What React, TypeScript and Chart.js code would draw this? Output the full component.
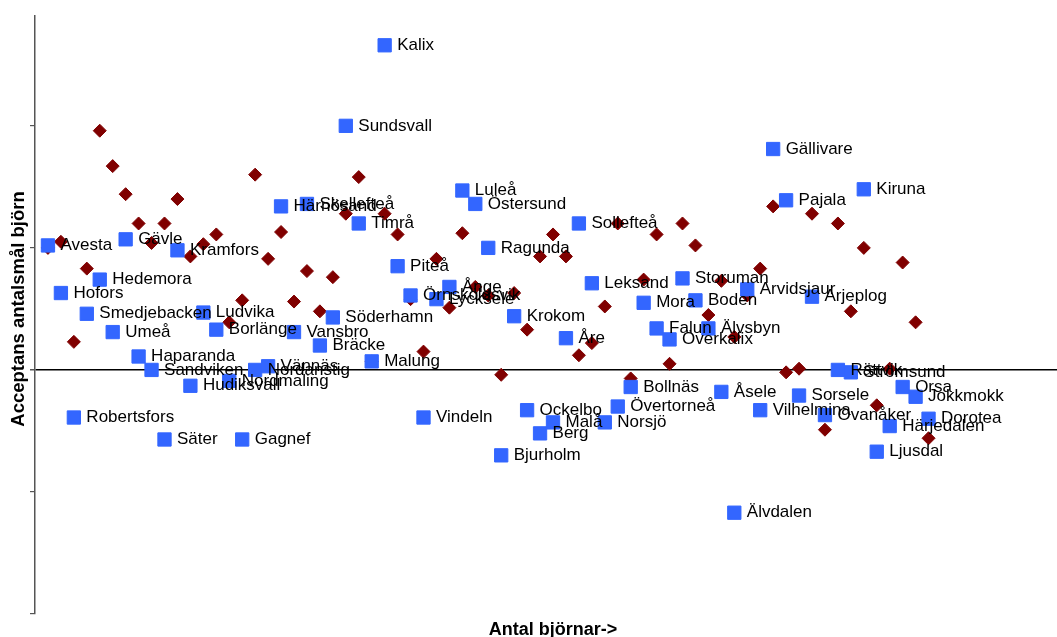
import React, { useEffect, useRef } from "react";
import { Chart, registerables } from "chart.js";

Chart.register(...registerables);

// Municipalities ordered by number of bears (x = rank 1..69)
const municipalities = [
  "Avesta", "Hofors", "Robertsfors", "Smedjebacken", "Hedemora", "Umeå", "Gävle", "Haparanda",
  "Sandviken", "Säter", "Kramfors", "Hudiksvall", "Ludvika", "Borlänge", "Nordmaling", "Gagnef",
  "Nordanstig", "Vännäs", "Härnösand", "Vansbro", "Skellefteå", "Bräcke", "Söderhamn", "Sundsvall",
  "Timrå", "Malung", "Kalix", "Piteå", "Örnsköldsvik", "Vindeln", "Lycksele", "Ånge", "Luleå",
  "Östersund", "Ragunda", "Bjurholm", "Krokom", "Ockelbo", "Berg", "Malå", "Åre", "Sollefteå",
  "Leksand", "Norsjö", "Övertorneå", "Bollnäs", "Mora", "Falun", "Överkalix", "Storuman", "Boden",
  "Älvsbyn", "Åsele", "Älvdalen", "Arvidsjaur", "Vilhelmina", "Gällivare", "Pajala", "Sorsele",
  "Arjeplog", "Ovanåker", "Rättvik", "Strömsund", "Kiruna", "Ljusdal", "Härjedalen", "Orsa",
  "Jokkmokk", "Dorotea",
];

// Acceptance per municipality (blue squares)
const acceptance = [
  1.02, 0.63, -0.39, 0.46, 0.74, 0.31, 1.07, 0.11,
  0.0, -0.57, 0.98, -0.13, 0.47, 0.33, -0.09, -0.57,
  0.0, 0.03, 1.34, 0.31, 1.36, 0.2, 0.43, 2.0,
  1.2, 0.07, 2.66, 0.85, 0.61, -0.39, 0.58, 0.68, 1.47,
  1.36, 1.0, -0.7, 0.44, -0.33, -0.52, -0.43, 0.26, 1.2,
  0.71, -0.43, -0.3, -0.14, 0.55, 0.34, 0.25, 0.75, 0.57,
  0.34, -0.18, -1.17, 0.66, -0.33, 1.81, 1.39, -0.21,
  0.6, -0.37, 0.0, -0.02, 1.48, -0.67, -0.46, -0.14,
  -0.22, -0.4,
];

// Second series (dark red diamonds), same x ranks
const secondSeries = [
  1.0, 1.05, 0.23, 0.83, 1.96, 1.67, 1.44, 1.2,
  1.04, 1.2, 1.4, 0.93, 1.03, 1.11, 0.39, 0.57,
  1.6, 0.91, 1.13, 0.56, 0.81, 0.48, 0.76, 1.28,
  1.58, 0.07, 1.28, 1.11, 0.58, 0.15, 0.91, 0.51, 1.12,
  0.68, 0.61, -0.04, 0.63, 0.33, 0.93, 1.11, 0.93, 0.12,
  0.22, 0.52, 1.2, -0.07, 0.74, 1.11, 0.05, 1.2, 1.02,
  0.45, 0.73, 0.27, 0.61, 0.83, 1.34, -0.02, 0.01,
  1.28, -0.49, 1.2, 0.48, 1.0, -0.29, 0.01, 0.88,
  0.39, -0.56,
];

const yTicks = [-2, -1, 0, 1, 2];
const xTitle = "Antal björnar->";
const yTitle = "Acceptans antalsmål björn";

const FONT = "'Liberation Sans', Arial, Helvetica, sans-serif";

const labelPlugin = {
  id: "pointLabels",
  afterDatasetsDraw(chart: any) {
    const meta = chart.getDatasetMeta(0);
    const ctx = chart.ctx;
    ctx.save();
    ctx.font = `17px ${FONT}`;
    ctx.fillStyle = "#000";
    ctx.textAlign = "left";
    ctx.textBaseline = "middle";
    meta.data.forEach((pt: any, i: number) => {
      ctx.fillText(municipalities[i], pt.x + 12.5, pt.y);
    });
    ctx.restore();
  },
};

// Y axis title (drawn slightly above the chart-area centre, as in the original)
const yTitlePlugin = {
  id: "yTitle",
  afterDraw(chart: any) {
    const ctx = chart.ctx;
    ctx.save();
    ctx.translate(19, 309);
    ctx.rotate(-Math.PI / 2);
    ctx.font = `bold 18.5px ${FONT}`;
    ctx.fillStyle = "#000";
    ctx.textAlign = "center";
    ctx.textBaseline = "middle";
    ctx.fillText(yTitle, 0, 0);
    ctx.restore();
  },
};

export default function App() {
  const ref = useRef<HTMLCanvasElement | null>(null);

  useEffect(() => {
    if (!ref.current) return;
    const blue = acceptance.map((v, i) => ({ x: i + 1, y: v }));
    const red = secondSeries.map((v, i) => ({ x: i + 1, y: v }));
    const chart = new Chart(ref.current, {
      type: "scatter",
      data: {
        datasets: [
          {
            label: "Acceptans",
            data: blue,
            pointStyle: "rect",
            pointRadius: 9.4,
            backgroundColor: "#3366ff",
            borderColor: "#3366ff",
            borderWidth: 1,
          },
          {
            label: "Förväntad",
            data: red,
            pointStyle: "rectRot",
            pointRadius: 6.5,
            backgroundColor: "#800000",
            borderColor: "#800000",
            borderWidth: 1,
          },
        ],
      },
      options: {
        animation: false,
        responsive: false,
        events: [],
        layout: { autoPadding: false, padding: { top: 16, left: 0, right: 0, bottom: 0 } },
        plugins: {
          legend: { display: false },
          tooltip: { enabled: false },
        },
        scales: {
          x: {
            type: "linear",
            min: 0,
            max: 80,
            grid: { display: false, drawTicks: false, tickLength: 0 },
            border: { display: false },
            ticks: { display: false },
            title: {
              display: true,
              text: xTitle,
              color: "#000",
              font: { family: FONT, size: 18, weight: "bold" },
              padding: { top: 5.2, bottom: 4.2 },
            },
          },
          y: {
            type: "linear",
            min: -2,
            max: 2.9,
            afterBuildTicks: (scale: any) => {
              scale.ticks = yTicks.map((v) => ({ value: v }));
            },
            afterFit: (scale: any) => {
              scale.width = 35;
            },
            ticks: { display: false, includeBounds: false, stepSize: 1 },
            grid: {
              drawTicks: true,
              tickLength: 5,
              color: (c: any) => (c.tick && c.tick.value === 0 ? "#000" : "rgba(0,0,0,0)"),
              tickColor: "#555",
              lineWidth: (c: any) => (c.tick && c.tick.value === 0 ? 1.5 : 1.2),
            },
            border: { display: true, color: "#555", width: 1.5 },
            title: { display: false, text: yTitle },
          },
        },
      },
      plugins: [labelPlugin, yTitlePlugin],
    });
    return () => chart.destroy();
  }, []);

  return (
    <div
      style={{
        position: "fixed",
        left: 0,
        top: 0,
        width: 1057,
        height: 637,
        overflow: "hidden",
        background: "#fff",
      }}
    >
      <canvas ref={ref} width={1071} height={645} style={{ display: "block" }} />
    </div>
  );
}
